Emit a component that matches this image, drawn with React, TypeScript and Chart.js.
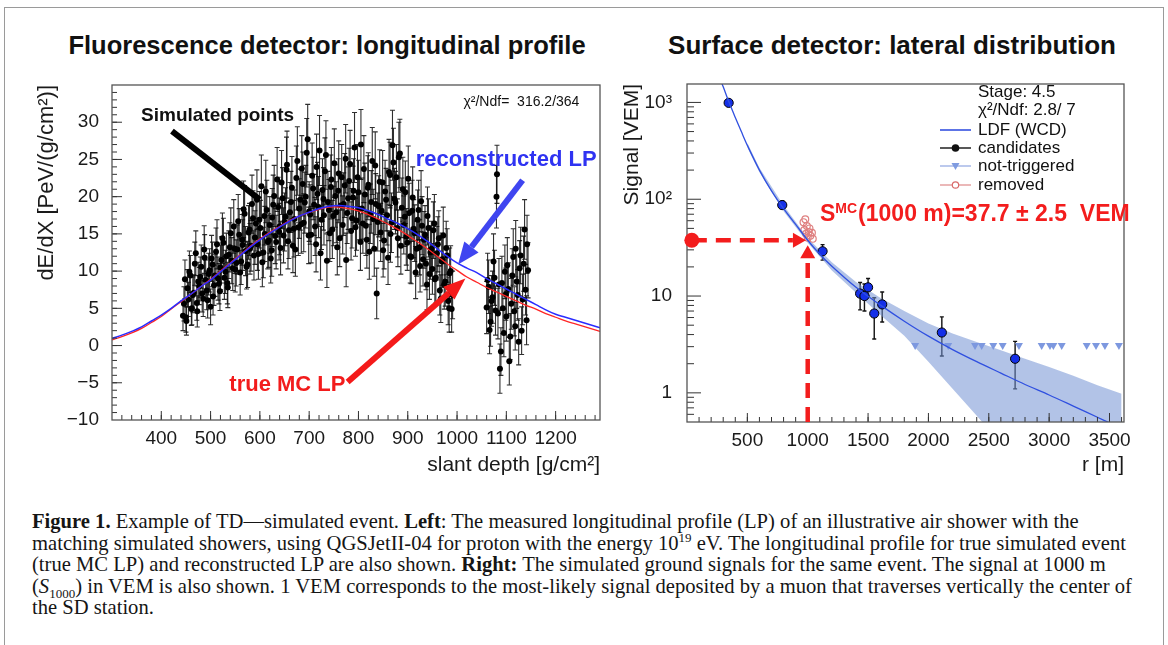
import React, { useEffect, useRef } from "react";
import { Chart, registerables } from "chart.js";
Chart.register(...registerables);

const SANS = "'Liberation Sans', Arial, Helvetica, sans-serif";
const SERIF = "'Liberation Serif', 'Times New Roman', serif";

// ---------------- Left panel: FD longitudinal profile ----------------
const fdDepth = [
  444, 448, 451, 455, 459, 462, 466, 470, 473, 477, 481, 485, 488, 492,
  496, 500, 504, 507, 511, 515, 519, 522, 526, 530, 534, 537, 541, 545, 549, 552, 556, 560, 564, 567, 571, 575, 579, 582, 586,
  590, 594, 597, 601, 605, 609, 612, 616, 620, 624, 627, 631, 635, 639, 642, 646, 650, 654, 657, 661, 665, 669, 672, 676, 680,
  684, 687, 691, 695, 699, 702, 706, 710, 714, 717, 721, 725, 729, 732, 736, 740, 744, 747, 751, 755, 759, 762, 766, 770, 774,
  777, 781, 785, 789, 792, 796, 800, 804, 807, 811, 815, 819, 822, 826, 830, 834, 837, 841, 845, 849, 852, 856, 860, 864, 867,
  871, 875, 879, 882, 886, 890, 894, 897, 901, 905, 909, 912, 916, 920, 924, 927, 931, 935, 939, 942, 946, 950, 954, 957, 961, 965, 969, 972, 976, 980, 984, 987, 991,
  1060, 1064, 1068, 1072, 1076, 1080, 1083, 1087, 1091, 1095, 1099, 1102, 1106, 1110, 1114, 1118, 1121, 1125, 1129, 1133, 1137, 1141, 1144,
  446, 450, 453, 457, 461, 464, 468, 472, 475, 479, 483, 487, 490, 494, 498, 502, 505, 509, 513, 517,
  520, 524, 528, 532, 535, 539, 543, 547, 550, 554, 558, 562, 565, 569, 573, 577, 580, 584, 588, 592,
  595, 599, 603, 607, 610, 614, 618, 622, 625, 629, 633, 637, 640, 644, 648, 652, 655, 659, 663, 667,
  670, 674, 678, 682, 685, 689, 693, 697, 700, 704, 708, 712, 715, 719, 723, 727, 730, 734, 738, 742,
  745, 749, 753, 757, 760, 764, 768, 772, 775, 779, 783, 787, 790, 794, 798, 802, 805, 809, 813, 817,
  820, 824, 828, 832, 835, 839, 843, 847, 850, 854, 858, 862, 865, 869, 873, 877, 880, 884, 888, 892,
  895, 899, 903, 907, 910, 914, 918, 922, 925, 929, 933, 937, 940, 944, 948, 952, 955, 959, 963, 967,
  970, 974, 978, 982, 985, 989,
  1062, 1066, 1070, 1074, 1078, 1081, 1085, 1089, 1093, 1097, 1100, 1104, 1108, 1112, 1116, 1119, 1123, 1127, 1131, 1135, 1139, 1142,
];
const fdDeposit = [
  4.0, 8.9, 3.3, 6.2, 9.4, 5.0, 7.1, 12.4, 4.6, 8.0, 10.6, 6.3, 11.8, 7.4,
  9.6, 5.2, 10.9, 8.1, 12.6, 9.0, 7.3, 11.5, 13.8, 9.9, 8.4, 12.2, 15.1, 10.4, 13.0, 11.1, 16.7, 9.8, 14.2, 18.3, 12.7, 10.9, 15.6, 13.4, 17.1,
  14.5, 19.6, 12.3, 15.8, 11.2, 17.4, 20.7, 13.9, 16.2, 12.8, 18.9, 14.7, 22.3, 15.3, 13.1, 19.8, 16.6, 23.6, 14.0, 17.9, 21.2, 15.7, 12.9, 24.8, 18.4,
  16.3, 21.7, 19.2, 25.9, 14.8, 17.6, 22.8, 18.9, 13.6, 20.4, 26.2, 16.9, 19.7, 23.4, 11.4, 18.2, 21.3, 15.6, 24.5, 17.9, 20.8, 14.4, 22.6, 19.0, 25.1,
  17.8, 22.1, 15.4, 19.9, 26.6, 16.8, 20.6, 13.9, 18.4, 23.7, 16.1, 21.2, 12.6, 19.3, 17.0, 24.2, 7.0, 18.7, 15.2, 21.9, 14.1, 19.6, 11.8, 22.9, 16.5,
  24.6, 19.2, 15.8, 25.3, 13.4, 21.0, 17.3, 14.6, 22.4, 12.0, 18.1, 15.7, 9.8, 16.9, 13.2, 19.4, 11.6, 14.9, 8.2, 15.8, 12.5, 10.3, 16.4, 9.1, 13.6, 7.4, 11.3, 14.8, 8.6, 12.1, 5.0, 10.0, 6.8,
  5.1, 7.9, 3.2, 6.5, 9.1, 20.0, 4.3, -3.1, 8.4, 1.7, 6.9, 10.8, -2.1, 5.6, 11.9, 2.6, 8.6, 0.5, 12.1, 6.2, 15.6, 3.4, 10.1,
  5.6, 3.8, 7.7, 9.9, 4.9, 6.8, 11.0, 5.7, 8.6, 9.2, 7.0, 12.9, 8.8, 6.1, 10.1, 11.7, 6.6, 9.4, 13.6, 8.3,
  10.5, 14.4, 9.1, 12.0, 7.8, 13.2, 11.4, 16.0, 10.2, 12.9, 14.9, 11.3, 13.5, 17.7, 10.6, 15.2, 13.0, 19.0, 12.1, 16.4,
  13.6, 16.9, 21.4, 12.5, 15.0, 18.2, 14.1, 11.7, 17.2, 20.1, 13.9, 18.6, 16.0, 21.9, 14.8, 17.3, 24.3, 15.5, 19.3, 13.4,
  17.0, 22.5, 15.9, 19.6, 23.8, 16.5, 20.0, 27.7, 18.0, 14.9, 21.1, 16.0, 24.0, 18.6, 12.4, 20.9, 17.5, 25.6, 19.3, 15.1,
  22.3, 17.4, 20.1, 13.2, 23.1, 18.8, 16.2, 21.5, 11.5, 19.8, 24.4, 17.1, 20.8, 15.9, 22.6, 18.3, 27.0, 16.4, 20.3, 14.2,
  21.6, 17.7, 24.8, 13.0, 19.0, 16.6, 22.0, 18.1, 12.8, 20.7, 17.5, 23.3, 15.0, 26.9, 19.7, 22.6, 14.4, 25.8, 18.5, 16.2,
  20.6, 13.8, 17.8, 11.9, 19.9, 15.1, 13.0, 18.2, 10.7, 16.1, 14.2, 11.0, 17.4, 9.6, 13.0, 15.5, 8.9, 12.4, 14.4, 6.3,
  11.6, 8.2, 13.1, 6.0, 9.7, 4.9,
  8.8, 2.1, 6.0, 11.3, 4.7, 23.0, 8.2, -0.8, 5.0, 9.9, 3.9, 7.6, 1.2, 9.4, 4.6, 13.0, 6.8, 10.4, 2.0, 11.0, 7.5, 13.6,
];
const fdError = [
  2.0, 2.6, 1.9, 2.3, 2.7, 2.2, 2.4, 3.0, 2.1, 2.5, 2.9, 2.4, 3.1, 2.6,
  2.8, 2.4, 3.0, 2.7, 3.2, 2.9, 2.6, 3.1, 3.3, 2.9, 2.8, 3.2, 3.4, 3.0, 3.3, 3.1, 3.6, 3.0, 3.4, 3.8, 3.3, 3.1, 3.5, 3.4, 3.7,
  3.6, 4.0, 3.4, 3.7, 3.3, 3.9, 4.2, 3.6, 3.8, 3.5, 4.0, 3.7, 4.3, 3.8, 3.6, 4.1, 3.9, 4.4, 3.7, 4.0, 4.2, 3.8, 3.6, 4.6, 4.0,
  3.9, 4.3, 4.1, 4.6, 3.8, 4.0, 4.4, 4.1, 3.7, 4.2, 4.7, 4.0, 4.2, 4.5, 3.6, 4.1, 4.3, 3.9, 4.6, 4.1, 4.3, 3.8, 4.4, 4.2, 4.6,
  4.1, 4.4, 3.9, 4.2, 4.7, 4.0, 4.3, 3.8, 4.1, 4.5, 4.0, 4.3, 3.7, 4.2, 4.0, 4.5, 3.4, 4.1, 3.9, 4.3, 3.8, 4.2, 3.6, 4.4, 4.0,
  4.6, 4.2, 3.9, 4.7, 3.8, 4.3, 4.0, 3.8, 4.4, 3.6, 4.1, 3.9, 3.5, 4.0, 3.7, 4.1, 3.6, 3.9, 3.4, 3.9, 3.6, 3.4, 3.9, 3.4, 3.7, 3.3, 3.5, 3.8, 3.3, 3.6, 3.2, 3.4, 3.2,
  3.5, 3.6, 3.3, 3.5, 3.7, 4.2, 3.4, 3.3, 3.6, 3.2, 3.5, 3.7, 3.2, 3.4, 3.8, 3.2, 3.6, 3.1, 3.8, 3.4, 4.0, 3.3, 3.7,
  2.3, 2.0, 2.5, 2.8, 2.2, 2.4, 2.9, 2.3, 2.6, 2.7, 2.5, 3.2, 2.7, 2.4, 2.9, 3.1, 2.5, 2.8, 3.3, 2.7,
  3.0, 3.4, 2.9, 3.1, 2.7, 3.3, 3.1, 3.6, 3.0, 3.3, 3.5, 3.1, 3.4, 3.8, 3.0, 3.6, 3.4, 3.9, 3.3, 3.7,
  3.5, 3.8, 4.2, 3.4, 3.7, 4.0, 3.6, 3.3, 3.9, 4.1, 3.6, 4.0, 3.8, 4.3, 3.7, 3.9, 4.5, 3.8, 4.1, 3.6,
  3.9, 4.3, 3.8, 4.1, 4.4, 3.9, 4.2, 4.7, 4.0, 3.8, 4.2, 3.9, 4.4, 4.1, 3.6, 4.2, 4.0, 4.6, 4.1, 3.8,
  4.3, 4.0, 4.2, 3.7, 4.4, 4.1, 3.9, 4.3, 3.6, 4.2, 4.5, 4.0, 4.3, 3.9, 4.4, 4.1, 4.7, 4.0, 4.2, 3.8,
  4.3, 4.0, 4.5, 3.7, 4.1, 3.9, 4.3, 4.0, 3.6, 4.2, 4.0, 4.4, 3.8, 4.7, 4.1, 4.4, 3.8, 4.6, 4.0, 3.9,
  4.2, 3.7, 4.0, 3.6, 4.1, 3.8, 3.7, 4.0, 3.5, 3.9, 3.8, 3.5, 3.9, 3.4, 3.7, 3.8, 3.4, 3.6, 3.7, 3.2,
  3.5, 3.3, 3.6, 3.2, 3.4, 3.1,
  3.6, 3.2, 3.4, 3.7, 3.3, 3.9, 3.5, 3.2, 3.4, 3.6, 3.3, 3.5, 3.1, 3.6, 3.3, 3.8, 3.4, 3.7, 3.2, 3.7, 3.4, 3.9,
];
const lpDepth = [
  300, 320, 340, 360, 380, 400, 420, 440, 460, 480, 500, 520, 540, 560, 580, 600, 620, 640, 660, 680,
  700, 720, 740, 760, 780, 800, 820, 840, 860, 880, 900, 920, 940, 960, 980, 1000, 1020, 1040, 1060, 1080,
  1100, 1120, 1140, 1160, 1180, 1200, 1220, 1240, 1260, 1280, 1290,
];
const recoLP = [
  0.95, 1.4, 1.9, 2.5, 3.3, 4.1, 5.0, 6.0, 6.9, 7.9, 8.8, 9.9, 11.0, 12.1, 13.2, 14.2, 15.1, 15.9, 16.7, 17.4,
  17.9, 18.4, 18.7, 18.8, 18.7, 18.5, 18.1, 17.6, 17.0, 16.4, 15.7, 14.9, 14.0, 13.0, 12.0, 11.1, 10.4, 9.8, 9.0, 8.3,
  7.6, 6.9, 6.2, 5.5, 4.8, 4.2, 3.8, 3.4, 3.0, 2.6, 2.4,
];
const trueLP = [
  0.75, 1.2, 1.7, 2.3, 3.1, 3.9, 4.9, 5.9, 6.9, 7.9, 8.9, 10.0, 11.1, 12.2, 13.3, 14.3, 15.2, 16.0, 16.8, 17.4,
  17.9, 18.3, 18.6, 18.6, 18.4, 18.1, 17.6, 17.0, 16.3, 15.6, 14.8, 13.9, 13.0, 12.0, 11.0, 10.1, 9.2, 8.5, 7.8, 7.2,
  6.6, 6.0, 5.4, 4.9, 4.3, 3.8, 3.3, 2.9, 2.5, 2.1, 1.9,
];
const fdXTicks = [400, 500, 600, 700, 800, 900, 1000, 1100, 1200];
const fdYTicks = [-10, -5, 0, 5, 10, 15, 20, 25, 30];

// ---------------- Right panel: SD lateral distribution ----------------
const candR = [345, 789, 1123, 1434, 1470, 1500, 1551, 1617, 2111, 2718];
const candS = [990, 87, 29, 10.6, 10.0, 12.3, 6.6, 8.2, 4.2, 2.25];
const candLow = [930, 79, 23.5, 7.2, 7.0, 10.0, 3.6, 5.4, 2.4, 1.1];
const candHigh = [1050, 96, 34, 13.8, 13.3, 15.2, 9.6, 11.0, 6.1, 3.4];
const candRErr = [10, 12, 35, 12, 12, 25, 12, 25, 15, 15];
const notTrigR = [1890, 2164, 2386, 2441, 2537, 2615, 2750, 2938, 3007, 3035, 3104, 3311, 3388, 3462, 3578];
const notTrigS = [3.1, 3.1, 3.1, 3.1, 3.1, 3.1, 3.1, 3.1, 3.1, 3.1, 3.1, 3.1, 3.1, 3.1, 3.1];
const removedR = [965, 972, 980, 986, 993, 1000, 1008, 1015, 1022, 1035, 1042];
const removedS = [58, 48, 62, 44, 53, 40, 46, 50, 42, 45, 39];
const ldfR = [270, 300, 350, 400, 450, 500, 600, 700, 800, 900, 1000, 1100, 1200, 1400, 1600, 1800, 2000, 2200, 2400, 2600, 2800, 3000, 3200, 3400, 3500];
const ldfS = [1800, 1450, 990, 700, 500, 360, 200, 122, 80, 55, 37.7, 27.0, 20.3, 12.3, 8.1, 5.5, 3.85, 2.8, 2.1, 1.6, 1.22, 0.95, 0.73, 0.56, 0.49];
const bandR = [500, 600, 800, 1000, 1200, 1400, 1600, 1800, 2000, 2200, 2400, 2600, 2800, 3000, 3200, 3400, 3600];
const bandHigh = [380, 212, 86, 39.8, 22.4, 14.0, 9.6, 7.0, 5.2, 4.1, 3.35, 2.75, 2.25, 1.85, 1.5, 1.2, 0.98];
const bandLow = [342, 190, 75, 35.6, 18.4, 10.8, 6.4, 3.9, 2.1, 1.1, 0.58, 0.3, 0.16, 0.09, 0.06, 0.04, 0.03];
const sdXTicks = [500, 1000, 1500, 2000, 2500, 3000, 3500];
const sdYTicks = [1, 10, 100, 1000];
const sdYLabels = ["1", "10", "10²", "10³"];
const s1000 = 37.7;

// ---------------- helpers ----------------
function arrow(ctx: CanvasRenderingContext2D, x1: number, y1: number, x2: number, y2: number,
  color: string, width: number, headLen: number, headW: number, dash: number[] = []) {
  const ang = Math.atan2(y2 - y1, x2 - x1);
  const bx = x2 - headLen * Math.cos(ang);
  const by = y2 - headLen * Math.sin(ang);
  ctx.save();
  ctx.strokeStyle = color;
  ctx.fillStyle = color;
  ctx.lineWidth = width;
  ctx.setLineDash(dash);
  ctx.beginPath();
  ctx.moveTo(x1, y1);
  ctx.lineTo(bx, by);
  ctx.stroke();
  ctx.setLineDash([]);
  if (headLen > 0) {
    ctx.beginPath();
    ctx.moveTo(x2, y2);
    ctx.lineTo(bx + (headW / 2) * Math.sin(ang), by - (headW / 2) * Math.cos(ang));
    ctx.lineTo(bx - (headW / 2) * Math.sin(ang), by + (headW / 2) * Math.cos(ang));
    ctx.closePath();
    ctx.fill();
  }
  ctx.restore();
}

const rootFrame = {
  id: "rootFrame",
  afterDatasetsDraw(chart: any, _a: any, o: any) {
    const { ctx, chartArea: a } = chart;
    const xs = chart.scales.x;
    const ys = chart.scales.y;
    ctx.save();
    ctx.strokeStyle = "#333";
    ctx.lineWidth = 1;
    const xTick = (v: number, len: number) => {
      const p = xs.getPixelForValue(v);
      if (p < a.left + 1 || p > a.right - 1) return;
      ctx.beginPath();
      ctx.moveTo(p, a.bottom);
      ctx.lineTo(p, a.bottom - len);
      ctx.stroke();
    };
    const yTick = (v: number, len: number) => {
      const p = ys.getPixelForValue(v);
      if (p < a.top + 1 || p > a.bottom - 1) return;
      ctx.beginPath();
      ctx.moveTo(a.left, p);
      ctx.lineTo(a.left + len, p);
      ctx.stroke();
    };
    for (let v = Math.ceil(xs.min / o.xMinorStep) * o.xMinorStep; v <= xs.max; v += o.xMinorStep) xTick(v, o.xMinorLen);
    for (const v of o.xMajor) xTick(v, o.xMajorLen);
    if (o.yLog) {
      for (let d = 0.1; d < ys.max; d *= 10) for (let k = 2; k <= 9; k++) yTick(k * d, o.yMinorLen);
    } else {
      for (let v = Math.ceil(ys.min / o.yMinorStep) * o.yMinorStep; v <= ys.max; v += o.yMinorStep) yTick(v, o.yMinorLen);
    }
    for (const v of o.yMajor) yTick(v, o.yMajorLen);
    ctx.strokeStyle = "#555";
    ctx.lineWidth = 1.3;
    ctx.strokeRect(a.left, a.top, a.right - a.left, a.bottom - a.top);
    ctx.restore();
  },
};

const fdErrorBars = {
  id: "fdErrorBars",
  beforeDatasetsDraw(chart: any) {
    const { ctx, chartArea: a } = chart;
    const xs = chart.scales.x;
    const ys = chart.scales.y;
    ctx.save();
    ctx.beginPath();
    ctx.rect(a.left, a.top, a.right - a.left, a.bottom - a.top);
    ctx.clip();
    ctx.strokeStyle = "rgba(10,10,10,0.85)";
    ctx.lineWidth = 1.1;
    for (let i = 0; i < fdDepth.length; i++) {
      const x = xs.getPixelForValue(fdDepth[i]);
      const lo = ys.getPixelForValue(fdDeposit[i] - fdError[i]);
      const hi = ys.getPixelForValue(fdDeposit[i] + fdError[i]);
      ctx.beginPath();
      ctx.moveTo(x, lo);
      ctx.lineTo(x, hi);
      ctx.moveTo(x - 2.5, lo);
      ctx.lineTo(x + 2.5, lo);
      ctx.moveTo(x - 2.5, hi);
      ctx.lineTo(x + 2.5, hi);
      ctx.stroke();
    }
    ctx.restore();
  },
};

const fdNotes = {
  id: "fdNotes",
  afterDraw(chart: any) {
    const { ctx } = chart;
    const xs = chart.scales.x;
    const ys = chart.scales.y;
    const P = (x: number, y: number) => [xs.getPixelForValue(x), ys.getPixelForValue(y)];
    ctx.save();
    ctx.textBaseline = "middle";
    ctx.textAlign = "left";
    ctx.fillStyle = "#111";
    ctx.font = `14px ${SANS}`;
    let [tx, ty] = P(1013, 32.7);
    ctx.fillText("χ²/Ndf=  316.2/364", tx, ty);
    ctx.font = `bold 19px ${SANS}`;
    [tx, ty] = P(359, 30.9);
    ctx.fillText("Simulated points", tx, ty);
    ctx.fillStyle = "#2f33f2";
    ctx.font = `bold 22px ${SANS}`;
    [tx, ty] = P(916, 25.0);
    ctx.fillText("reconstructed LP", tx, ty);
    ctx.fillStyle = "#f21c1c";
    [tx, ty] = P(538, -5.3);
    ctx.fillText("true MC LP", tx, ty);
    const [b1x, b1y] = P(421.6, 28.8);
    const [b2x, b2y] = P(600, 19.6);
    arrow(ctx, b1x, b1y, b2x, b2y, "#000", 6, 0, 0);
    const [u1x, u1y] = P(1133, 22.2);
    const [u2x, u2y] = P(1002, 10.9);
    arrow(ctx, u1x, u1y, u2x, u2y, "#3f45f0", 6, 22, 18);
    const [r1x, r1y] = P(778, -4.9);
    const [r2x, r2y] = P(1017, 9.0);
    arrow(ctx, r1x, r1y, r2x, r2y, "#f41a1a", 6, 22, 17);
    ctx.restore();
  },
};

const sdErrorBars = {
  id: "sdErrorBars",
  beforeDatasetsDraw(chart: any) {
    const { ctx, chartArea: a } = chart;
    const xs = chart.scales.x;
    const ys = chart.scales.y;
    ctx.save();
    ctx.beginPath();
    ctx.rect(a.left, a.top, a.right - a.left, a.bottom - a.top);
    ctx.clip();
    ctx.strokeStyle = "#111";
    ctx.lineWidth = 1.4;
    for (let i = 0; i < candR.length; i++) {
      const x = xs.getPixelForValue(candR[i]);
      const y = ys.getPixelForValue(candS[i]);
      const lo = ys.getPixelForValue(candLow[i]);
      const hi = ys.getPixelForValue(candHigh[i]);
      const xl = xs.getPixelForValue(candR[i] - candRErr[i]);
      const xh = xs.getPixelForValue(candR[i] + candRErr[i]);
      ctx.beginPath();
      ctx.moveTo(x, lo);
      ctx.lineTo(x, hi);
      ctx.moveTo(x - 2, lo);
      ctx.lineTo(x + 2, lo);
      ctx.moveTo(x - 2, hi);
      ctx.lineTo(x + 2, hi);
      ctx.moveTo(xl, y);
      ctx.lineTo(xh, y);
      ctx.stroke();
    }
    ctx.restore();
  },
};

const sdNotes = {
  id: "sdNotes",
  afterDraw(chart: any) {
    const { ctx, chartArea: a } = chart;
    const xs = chart.scales.x;
    const ys = chart.scales.y;
    ctx.save();
    const yS = ys.getPixelForValue(s1000);
    const xDot = xs.getPixelForValue(40);
    arrow(ctx, xDot, yS, xs.getPixelForValue(985), yS, "#f31d1d", 4.5, 13, 15, [15, 9]);
    arrow(ctx, xs.getPixelForValue(1000), a.bottom, xs.getPixelForValue(1000), ys.getPixelForValue(33.5), "#f31d1d", 4.5, 13, 15, [15, 9]);
    ctx.fillStyle = "#f31d1d";
    ctx.beginPath();
    ctx.arc(xDot, yS, 7.5, 0, Math.PI * 2);
    ctx.fill();
    ctx.textBaseline = "alphabetic";
    ctx.textAlign = "left";
    let x = a.left + 133;
    const base = 221;
    ctx.font = `bold 23px ${SANS}`;
    ctx.fillText("S", x, base);
    x += ctx.measureText("S").width;
    ctx.font = `bold 14px ${SANS}`;
    ctx.fillText("MC", x, base - 8);
    x += ctx.measureText("MC").width + 1;
    ctx.font = `bold 23px ${SANS}`;
    ctx.fillText("(1000 m)=37.7 ± 2.5  VEM", x, base);
    const tx = a.right - 146;
    const l1 = a.right - 184;
    const l2 = a.right - 153;
    const rows = [8, 26, 46, 64, 82, 101].map((d) => a.top + d);
    ctx.fillStyle = "#111";
    ctx.textBaseline = "middle";
    ctx.font = `17px ${SANS}`;
    ctx.fillText("Stage: 4.5", tx, rows[0]);
    ctx.fillText("χ²/Ndf: 2.8/ 7", tx, rows[1]);
    ctx.fillText("LDF (WCD)", tx, rows[2]);
    ctx.fillText("candidates", tx, rows[3]);
    ctx.fillText("not-triggered", tx, rows[4]);
    ctx.fillText("removed", tx, rows[5]);
    const seg = (y: number, c: string, w: number) => {
      ctx.strokeStyle = c;
      ctx.lineWidth = w;
      ctx.beginPath();
      ctx.moveTo(l1, y);
      ctx.lineTo(l2, y);
      ctx.stroke();
    };
    const mid = (l1 + l2) / 2;
    seg(rows[2], "#3552e0", 1.6);
    seg(rows[3], "#111", 1.4);
    ctx.fillStyle = "#111";
    ctx.beginPath();
    ctx.arc(mid, rows[3], 3.8, 0, Math.PI * 2);
    ctx.fill();
    seg(rows[4], "#9fb2e6", 1.4);
    ctx.fillStyle = "#7f9be0";
    ctx.beginPath();
    ctx.moveTo(mid - 4, rows[4] - 3);
    ctx.lineTo(mid + 4, rows[4] - 3);
    ctx.lineTo(mid, rows[4] + 4);
    ctx.closePath();
    ctx.fill();
    seg(rows[5], "#e39a9a", 1.4);
    ctx.strokeStyle = "#d96a6a";
    ctx.lineWidth = 1.2;
    ctx.fillStyle = "#fff";
    ctx.beginPath();
    ctx.arc(mid, rows[5], 3.2, 0, Math.PI * 2);
    ctx.fill();
    ctx.stroke();
    ctx.restore();
  },
};

const tickFont = { family: SANS, size: 19 };
const TXT = "#1a1a1a";

export default function App() {
  const leftRef = useRef<HTMLCanvasElement>(null);
  const rightRef = useRef<HTMLCanvasElement>(null);

  useEffect(() => {
    const left = new Chart(leftRef.current as HTMLCanvasElement, {
      type: "scatter",
      data: {
        datasets: [
          {
            label: "reconstructed LP",
            data: lpDepth.map((x, i) => ({ x, y: recoLP[i] })),
            showLine: true, borderColor: "#2a2cff", borderWidth: 1.5, pointRadius: 0, tension: 0.4,
          },
          {
            label: "true MC LP",
            data: lpDepth.map((x, i) => ({ x, y: trueLP[i] })),
            showLine: true, borderColor: "#ff2626", borderWidth: 1.3, pointRadius: 0, tension: 0.4,
          },
          {
            label: "Simulated points",
            data: fdDepth.map((x, i) => ({ x, y: fdDeposit[i] })),
            pointRadius: 3, backgroundColor: "#000", borderColor: "#000", borderWidth: 0,
          },
        ],
      } as any,
      options: {
        animation: false,
        responsive: false,
        maintainAspectRatio: false,
        layout: { padding: { left: 0, top: 85, right: 10, bottom: 0 } },
        plugins: {
          legend: { display: false },
          tooltip: { enabled: false },
          rootFrame: {
            xMajor: fdXTicks, xMinorStep: 20, xMajorLen: 9, xMinorLen: 5,
            yMajor: fdYTicks, yMinorStep: 1, yMajorLen: 10, yMinorLen: 5,
          },
        } as any,
        scales: {
          x: {
            type: "linear", min: 300, max: 1290,
            grid: { display: false }, border: { display: false },
            ticks: { font: tickFont, color: TXT, padding: -1, autoSkip: false, maxRotation: 0, callback: (v: any) => String(v) },
            afterBuildTicks: (s: any) => { s.ticks = fdXTicks.map((value) => ({ value })); },
            afterFit: (s: any) => { s.height = 60; },
            title: { display: true, text: "slant depth [g/cm²]", align: "end", color: TXT, font: { family: SANS, size: 21 }, padding: { top: 0, bottom: 2 } },
          },
          y: {
            type: "linear", min: -10, max: 35,
            grid: { display: false }, border: { display: false },
            ticks: { font: tickFont, color: TXT, padding: 5, autoSkip: false, callback: (v: any) => String(v).replace("-", "−") },
            afterBuildTicks: (s: any) => { s.ticks = fdYTicks.map((value) => ({ value })); },
            afterFit: (s: any) => { s.width = 112; },
            title: { display: true, text: "dE/dX [PeV/(g/cm²)]", align: "end", color: TXT, font: { family: SANS, size: 22 }, padding: { top: 34, bottom: 0 } },
          },
        },
      } as any,
      plugins: [fdErrorBars, rootFrame, fdNotes],
    });

    const right = new Chart(rightRef.current as HTMLCanvasElement, {
      type: "scatter",
      data: {
        datasets: [
          {
            label: "LDF (WCD)",
            data: ldfR.map((x, i) => ({ x, y: ldfS[i] })),
            showLine: true, borderColor: "#3050e0", borderWidth: 1.3, pointRadius: 0, tension: 0.3,
          },
          {
            label: "candidates",
            data: candR.map((x, i) => ({ x, y: candS[i] })),
            pointRadius: 4.6, backgroundColor: "#1530e8", borderColor: "#000", borderWidth: 1,
          },
          {
            label: "removed",
            data: removedR.map((x, i) => ({ x, y: removedS[i] })),
            pointRadius: 3.4, backgroundColor: "rgba(255,255,255,0)", borderColor: "#df8080", borderWidth: 1.2,
          },
          {
            label: "not-triggered",
            data: notTrigR.map((x, i) => ({ x, y: notTrigS[i] })),
            pointStyle: "triangle", rotation: 180, pointRadius: 4.6, backgroundColor: "#7d98df", borderColor: "#7d98df", borderWidth: 0,
          },
          {
            label: "band high",
            data: bandR.map((x, i) => ({ x, y: bandHigh[i] })),
            showLine: true, borderWidth: 0, borderColor: "rgba(0,0,0,0)", pointRadius: 0,
            fill: "+1", backgroundColor: "rgba(115,145,212,0.55)",
          },
          {
            label: "band low",
            data: bandR.map((x, i) => ({ x, y: bandLow[i] })),
            showLine: true, borderWidth: 0, borderColor: "rgba(0,0,0,0)", pointRadius: 0,
          },
        ],
      } as any,
      options: {
        animation: false,
        responsive: false,
        maintainAspectRatio: false,
        layout: { padding: { left: 0, top: 84, right: 44, bottom: 0 } },
        plugins: {
          legend: { display: false },
          tooltip: { enabled: false },
          rootFrame: {
            xMajor: sdXTicks, xMinorStep: 100, xMajorLen: 9, xMinorLen: 5,
            yMajor: sdYTicks, yLog: true, yMajorLen: 14, yMinorLen: 7,
          },
        } as any,
        scales: {
          x: {
            type: "linear", min: 0, max: 3620,
            grid: { display: false }, border: { display: false },
            ticks: { font: tickFont, color: TXT, padding: -1, autoSkip: false, maxRotation: 0, callback: (v: any) => String(v) },
            afterBuildTicks: (s: any) => { s.ticks = sdXTicks.map((value) => ({ value })); },
            afterFit: (s: any) => { s.height = 58; },
            title: { display: true, text: "r [m]", align: "end", color: TXT, font: { family: SANS, size: 21 }, padding: { top: 0, bottom: 2 } },
          },
          y: {
            type: "logarithmic", min: 0.5, max: 1550,
            grid: { display: false }, border: { display: false },
            ticks: {
              font: tickFont, color: TXT, padding: 7, autoSkip: false,
              callback: (v: any) => { const i = sdYTicks.indexOf(Number(v)); return i >= 0 ? sdYLabels[i] : ""; },
            },
            afterBuildTicks: (s: any) => { s.ticks = sdYTicks.map((value) => ({ value })); },
            afterFit: (s: any) => { s.width = 77; },
            title: { display: true, text: "Signal [VEM]", align: "end", color: TXT, font: { family: SANS, size: 21 }, padding: { top: 10, bottom: 0 } },
          },
        },
      } as any,
      plugins: [sdErrorBars, rootFrame, sdNotes],
    });

    return () => {
      left.destroy();
      right.destroy();
    };
  }, []);

  return (
    <div style={{ position: "absolute", left: 0, top: 0, width: 1168, height: 645, background: "#fff", overflow: "hidden" }}>
      <div style={{ position: "absolute", left: 4, top: 7, width: 1158, height: 700, border: "1px solid #9a9a9a" }} />
      <div style={{ position: "absolute", left: 27, top: 30, width: 600, textAlign: "center", font: `bold 25.5px ${SANS}`, lineHeight: "30px", color: "#111" }}>
        Fluorescence detector: longitudinal profile
      </div>
      <div style={{ position: "absolute", left: 592, top: 30, width: 600, textAlign: "center", font: `bold 26px ${SANS}`, lineHeight: "30px", color: "#111" }}>
        Surface detector: lateral distribution
      </div>
      <canvas ref={leftRef} width={610} height={480} style={{ position: "absolute", left: 0, top: 0, width: 610, height: 480 }} />
      <canvas ref={rightRef} width={558} height={480} style={{ position: "absolute", left: 610, top: 0, width: 558, height: 480 }} />
      <div style={{ position: "absolute", left: 32, top: 511, fontFamily: SERIF, fontSize: 20.6, lineHeight: "21.5px", color: "#151515", whiteSpace: "nowrap" }}>
        <b>Figure 1.</b> Example of TD—simulated event. <b>Left</b>: The measured longitudinal profile (LP) of an illustrative air shower with the<br />
        matching simulated showers, using QGSJetII-04 for proton with the energy 10<sup style={{ fontSize: 13, lineHeight: 0 }}>19</sup> eV. The longitudinal profile for true simulated event<br />
        (true MC LP) and reconstructed LP are also shown. <b>Right:</b> The simulated ground signals for the same event. The signal at 1000 m<br />
        (<i>S</i><sub style={{ fontSize: 13, lineHeight: 0 }}>1000</sub>) in VEM is also shown. 1 VEM corresponds to the most-likely signal deposited by a muon that traverses vertically the center of<br />
        the SD station.
      </div>
    </div>
  );
}
